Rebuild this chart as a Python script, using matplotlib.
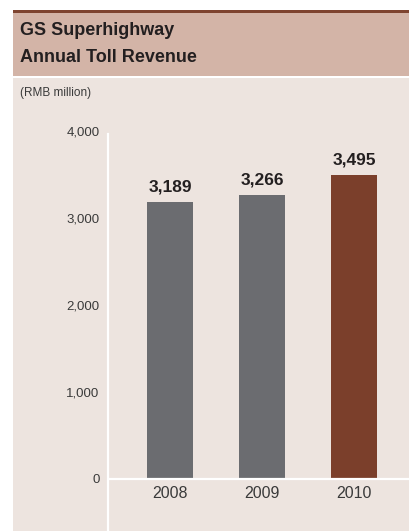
import matplotlib
matplotlib.use("Agg")
import matplotlib.pyplot as plt
from matplotlib.patches import Rectangle
from matplotlib import font_manager

years = ["2008", "2009", "2010"]
revenue = [3189, 3266, 3495]
value_labels = ["3,189", "3,266", "3,495"]
bar_colors = ["#6b6c70", "#6b6c70", "#7b3f2b"]
yticks = [0, 1000, 2000, 3000, 4000]
ytick_labels = ["0", "1,000", "2,000", "3,000", "4,000"]

names = sorted({f.name for f in font_manager.fontManager.ttflist})
fam = ["Liberation Sans Narrow"] if "Liberation Sans Narrow" in names else ["Liberation Sans"]
fam = fam + ["DejaVu Sans"]

W, H = 409, 531
fig = plt.figure(figsize=(W / 100, H / 100), dpi=100)
fig.patch.set_facecolor("white")

def px_rect(x0, y0, x1, y1, color):
    fig.patches.append(Rectangle((x0 / W, 1 - y1 / H), (x1 - x0) / W, (y1 - y0) / H,
                                 transform=fig.transFigure, facecolor=color,
                                 edgecolor="none", zorder=-5))

px_rect(13, 10, W, 12.7, "#7e4430")
px_rect(13, 13, W, 76, "#d3b4a7")
px_rect(13, 78, W, H, "#ede4df")

fig.text(20 / W, 1 - 31 / H, "GS Superhighway", fontsize=13, fontweight="bold",
         family=fam, color="#231f20", va="center", ha="left")
fig.text(20 / W, 1 - 57 / H, "Annual Toll Revenue", fontsize=13, fontweight="bold",
         family=fam, color="#231f20", va="center", ha="left")
fig.text(20 / W, 1 - 93 / H, "(RMB million)", fontsize=8.5, family=fam,
         color="#3a3a3a", va="center", ha="left")

ax = fig.add_axes([108 / W, 0, 1 - 108 / W, (H - 131) / H], zorder=2)
ax.set_facecolor("none")
x = list(range(len(years)))
ax.bar(x, revenue, width=0.5, color=bar_colors, zorder=2)
ax.set_xlim(-0.674, 2.598)
ax.set_ylim(-598, 4000)
for s in ["top", "right", "bottom"]:
    ax.spines[s].set_visible(False)
ax.spines["left"].set_color("white")
ax.spines["left"].set_linewidth(1.6)
ax.spines["left"].set_bounds(-598, 3970)
ax.axhline(0, color="white", lw=1.6, zorder=3)
ax.set_yticks(yticks)
ax.set_yticklabels(ytick_labels, family=fam, fontsize=9.5, color="#3a3a3a")
ax.tick_params(axis="y", length=0, pad=6)
ax.set_xticks([])
for xi, yr in zip(x, years):
    ax.text(xi, -165, yr, ha="center", va="center", fontsize=11.5, family=fam,
            color="#3a3a3a")
for xi, v, lab in zip(x, revenue, value_labels):
    ax.annotate(lab, (xi, v), xytext=(0, 5), textcoords="offset points",
                ha="center", va="bottom", fontsize=12.5, fontweight="bold",
                family=fam, color="#231f20")

fig.savefig("out.png", dpi=100)
